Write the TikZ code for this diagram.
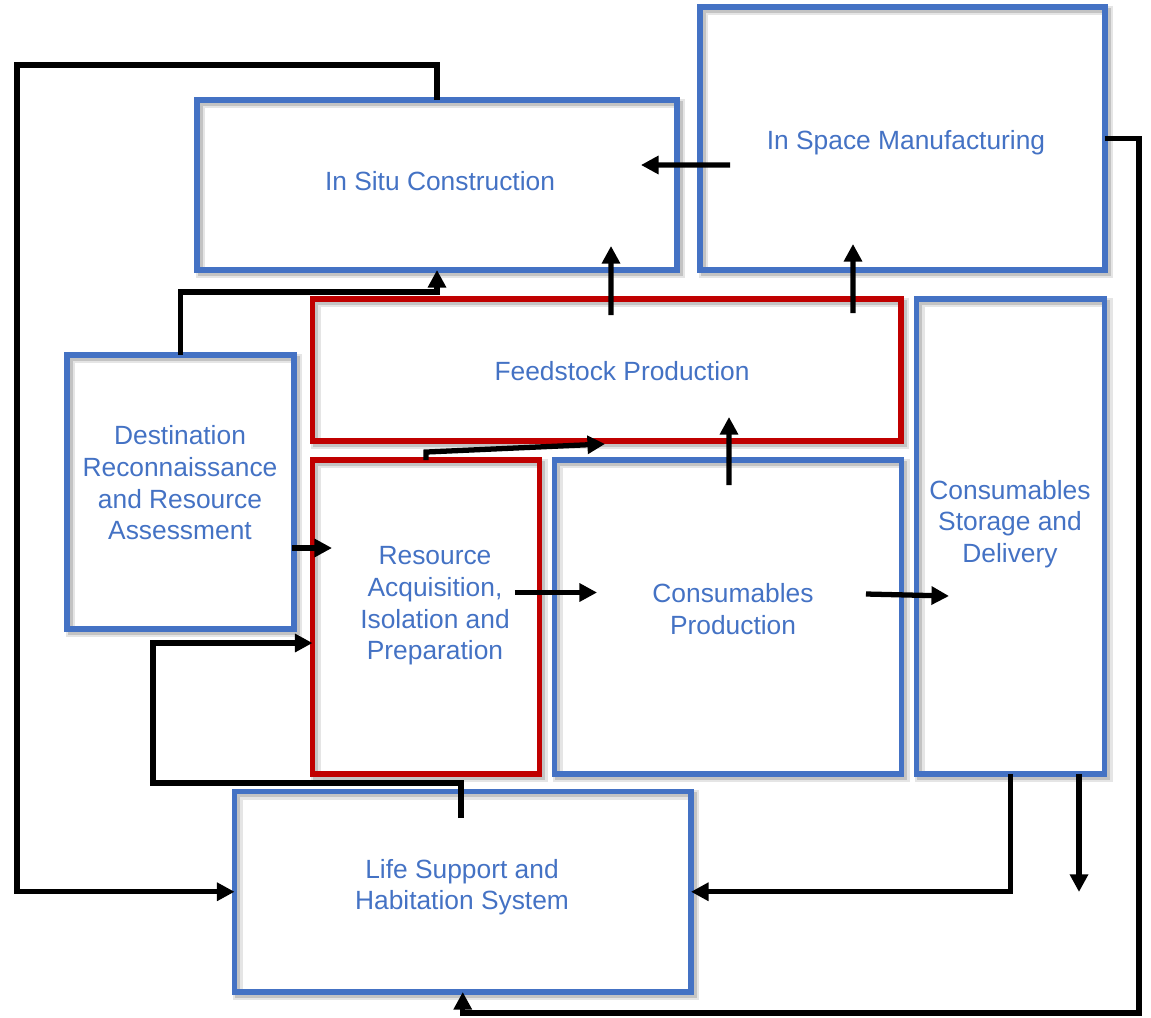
\documentclass[tikz,border=0pt]{standalone}
\usepackage{fontspec}
\setmainfont{Liberation Sans}
\usepackage{xcolor}
\usetikzlibrary{arrows.meta,calc}

\definecolor{boxblue}{HTML}{4472C4}
\definecolor{boxred}{HTML}{C00000}

\begin{document}
\begin{tikzpicture}[
    x=0.02cm, y=-0.02cm,
    box/.style={draw=boxblue, line width=3pt, inner sep=0pt, outer sep=0pt,
        preaction={draw=black, draw opacity=0.10, line width=5.5pt, transform canvas={xshift=2pt, yshift=-2pt}},
        preaction={draw=black, draw opacity=0.15, line width=3pt, transform canvas={xshift=1.8pt, yshift=-1.8pt}}},
    redbox/.style={box, draw=boxred},
    txt/.style={text=boxblue, align=center, font=\fontsize{15}{18}\selectfont},
    arrow/.style={-{Triangle[length=10pt, width=10pt]}, line width=3pt},
]
    \useasboundingbox (0,0) rectangle (1151,1017);

    % frames
    \node[box, minimum width=9.6cm, minimum height=3.4cm] (situ) at (437,185) {};
    \node[box, minimum width=8.1cm, minimum height=5.26cm] (mfg) at (902.5,138.5) {};
    \node[redbox, minimum width=11.77cm, minimum height=2.84cm] (feed) at (606.75,370) {};
    \node[box, minimum width=4.54cm, minimum height=5.48cm] (dest) at (180.5,492) {};
    \node[redbox, minimum width=4.54cm, minimum height=6.28cm] (res) at (426,617) {};
    \node[box, minimum width=6.94cm, minimum height=6.28cm] (cons) at (728,617) {};
    \node[box, minimum width=3.76cm, minimum height=9.5cm] (store) at (1010.5,536.5) {};
    \node[box, minimum width=9.13cm, minimum height=4.01cm] (life) at (462.75,891.75) {};

    % labels
    \node[txt] (situtxt) at (440,181) {In Situ Construction};
    \node[txt] (mfgtxt) at (906,143) {In Space Manufacturing};
    \node[txt] (feedtxt) at (622,371) {Feedstock Production};
    \node[txt] (desttxt) at (180,483) {Destination\\Reconnaissance\\and Resource\\Assessment};
    \node[txt] (restxt) at (435,606) {Resource\\Acquisition,\\Isolation and\\Preparation};
    \node[txt] (constxt) at (733,609) {Consumables\\Production};
    \node[txt] (storetxt) at (1010,524) {Consumables\\Storage and\\Delivery};
    \node[txt] (lifetxt) at (462,887) {Life Support and\\Habitation System};

    % flows
    \draw[arrow] ($(mfg.west)+(30,26.5)$) -- ($(situ.east)+(-36,-20)$);
    \draw[arrow] ($(feed.north)+(4.25,16)$) -- ($(situ.south)+(174,-24)$);
    \draw[arrow] ($(feed.north)+(246.25,14)$) -- ($(mfg.south)+(-49.5,-26)$);
    \draw[arrow] ($(cons.north)+(1,25)$) -- ($(feed.south)+(122.25,-24)$);
    \draw[arrow] (dest.north) -- ++(0,-63) -| (situ.south);
    \draw[arrow] (situ.north) -- ++(0,-35) -- ++(-420,0) |- (life.west);
    \draw[arrow] ($(dest.east)+(-2,56)$) -- ($(res.west)+(19.5,-69)$);
    \draw[arrow] (res.north) -- ++(0,-8) -- ($(feed.south)+(-1.75,3)$);
    \draw[arrow] ($(res.east)+(-24.5,-24.5)$) -- ($(cons.west)+(42.5,-24.5)$);
    \draw[arrow] ($(cons.east)+(-35.5,-23)$) -- ($(store.west)+(32.5,59.5)$);
    \draw[arrow] ($(life.north)+(-1.75,26.5)$) -- ++(0,-35) -- ++(-308,0) |- ($(res.west)+(0,26)$);
    \draw[arrow] (store.south) |- (life.east);
    \draw[arrow] ($(store.south)+(68.5,0)$) -- ++(0,118);
    \draw[arrow] (mfg.east) -- ++(34,0) -- ++(0,874.5) -| (life.south);
\end{tikzpicture}
\end{document}
